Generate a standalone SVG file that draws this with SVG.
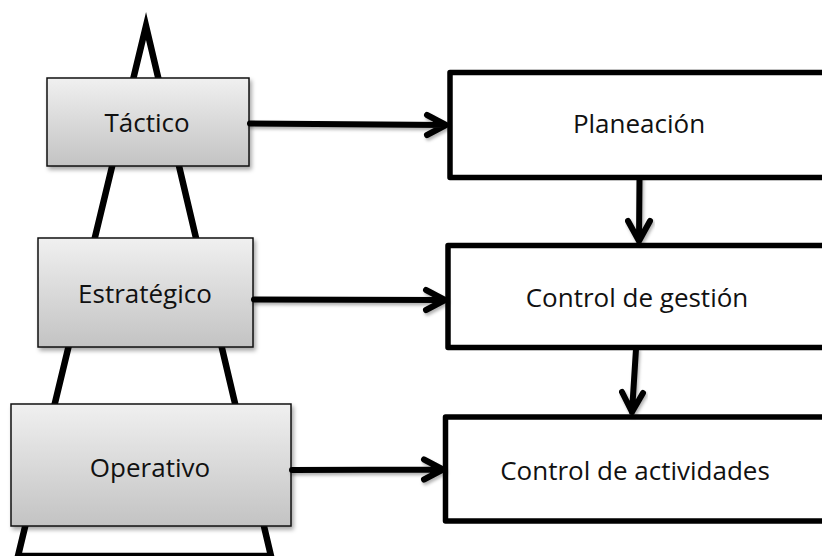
<svg xmlns="http://www.w3.org/2000/svg" width="822" height="556" viewBox="0 0 822 556">
  <defs>
    <linearGradient id="levelFill" x1="0" y1="0" x2="0" y2="1">
      <stop offset="0" stop-color="#f0f0f0"/>
      <stop offset="1" stop-color="#c3c3c3"/>
    </linearGradient>
    <filter id="shadow" x="-10%" y="-10%" width="130%" height="140%">
      <feDropShadow dx="2" dy="3" stdDeviation="2" flood-color="#000" flood-opacity="0.35"/>
    </filter>
    <filter id="lineShadow" x="-10%" y="-50%" width="130%" height="200%">
      <feDropShadow dx="1.5" dy="2.5" stdDeviation="1.8" flood-color="#000" flood-opacity="0.3"/>
    </filter>
  </defs>
  <style>
    .label { font-family: "Open Sans", "Liberation Sans", sans-serif; font-size: 26px; fill: #111; text-anchor: middle; }
    .level { fill: url(#levelFill); stroke: #111; stroke-width: 1.5; filter: url(#shadow); }
    .stage { fill: #fff; stroke: #000; stroke-width: 5.5; stroke-linejoin: round; }
    .pyramid { fill: none; stroke: #000; stroke-width: 6.5; stroke-linejoin: miter; stroke-miterlimit: 10; }
    .conn { fill: none; stroke: #000; stroke-width: 6; stroke-linecap: round; stroke-linejoin: round; filter: url(#lineShadow); }
  </style>

  <rect width="822" height="556" fill="#fff"/>

  <!-- pyramid outline behind the level boxes -->
  <polygon class="pyramid" points="146,26 271,556 18,556"/>

  <g id="tactico">
    <rect class="level" x="47" y="78" width="202" height="88"/>
    <text class="label" x="147" y="132">Táctico</text>
  </g>
  <g id="estrategico">
    <rect class="level" x="38" y="238" width="215" height="109"/>
    <text class="label" x="145" y="303">Estratégico</text>
  </g>
  <g id="operativo">
    <rect class="level" x="11" y="404" width="280" height="122"/>
    <text class="label" x="150" y="477">Operativo</text>
  </g>

  <g id="planeacion">
    <rect class="stage" x="450" y="72.5" width="400" height="105"/>
    <text class="label" x="639" y="133">Planeación</text>
  </g>
  <g id="control-gestion">
    <rect class="stage" x="448" y="245.5" width="400" height="102"/>
    <text class="label" x="637" y="307">Control de gestión</text>
  </g>
  <g id="control-actividades">
    <rect class="stage" x="445.5" y="417" width="400" height="104"/>
    <text class="label" x="635" y="480">Control de actividades</text>
  </g>

  <g id="connectors">
    <path class="conn" d="M250,123.5 L446,125 M427,115 L446,125 L427,135"/>
    <path class="conn" d="M254,299.5 L445,300 M426,290 L445,300 L426,310"/>
    <path class="conn" d="M292,470 L443,469.5 M424,459.5 L443,469.5 L424,479.5"/>
    <path class="conn" d="M639.5,178 L639,241 M628,221 L639,241 L650,221"/>
    <path class="conn" d="M636,349 L632,412 M622,392 L632,412 L643,393"/>
  </g>
</svg>
